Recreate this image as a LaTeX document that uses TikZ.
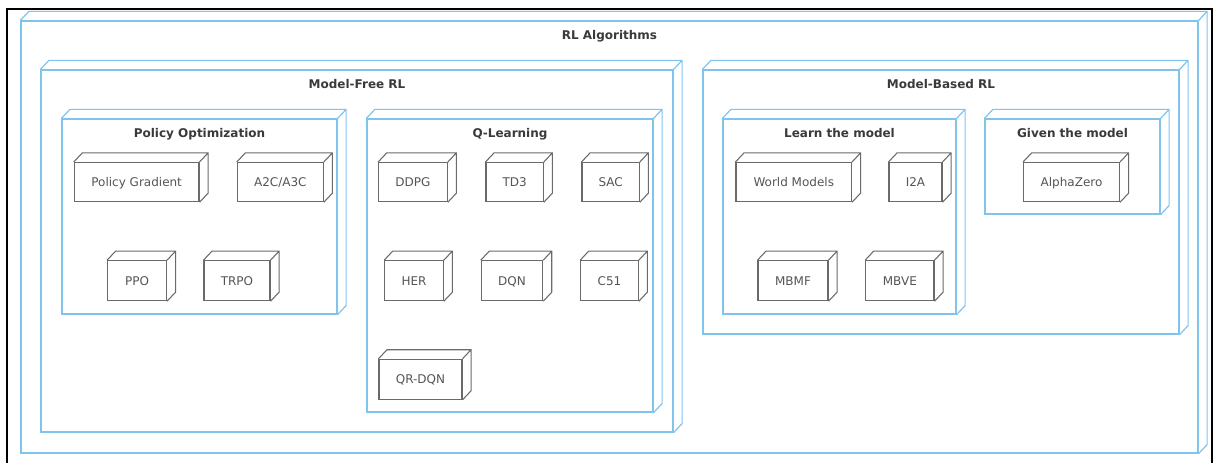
\documentclass[tikz,border=0pt]{standalone}
\usepackage{fontspec}
\setmainfont{DejaVu Sans}
\usetikzlibrary{calc,fit}

\definecolor{frameblue}{HTML}{80C4EE}
\definecolor{boxgray}{HTML}{6A6A6A}
\definecolor{labelgray}{HTML}{555555}
\definecolor{titlegray}{HTML}{3A3A3A}

\tikzset{
  container/.style={draw=frameblue, line width=0.9pt, inner sep=0pt, fill=white},
  algo/.style={draw=boxgray, line width=0.8pt, inner sep=0pt, fill=white},
  algotext/.style={text=labelgray, font=\fontsize{9}{10}\selectfont, inner sep=0pt, anchor=base},
  heading/.style={text=titlegray, font=\fontsize{9}{10}\selectfont\bfseries, inner sep=0pt, anchor=base},
}

% front face of a box given by its two corners, plus the receding top and side
\newcommand\cubebox[6]{%
  \node[#6, fit={(#2,#3) (#4,#5)}] (#1) {};
  \draw[#6, fill=none] (#1.north west) -- ++(8.5,-9) -- ($(#1.north east)+(8.5,-9)$)
     -- ($(#1.south east)+(8.5,-9)$) -- (#1.south east)
     (#1.north east) -- ++(8.5,-9);
}
% algorithm box with its name in the middle
\newcommand\algobox[6]{%
  \cubebox{#1}{#2}{#3}{#4}{#5}{algo}
  \node[algotext] (#1L) at ($(#1.center)+(0,4.5)$) {#6};
}
% container box with its bold title at the top
\newcommand\groupbox[6]{%
  \cubebox{#1}{#2}{#3}{#4}{#5}{container}
  \node[heading] (#1T) at ($(#1.north)+(0,19.3)$) {#6};
}

\begin{document}
\begin{tikzpicture}[x=0.75pt, y=-0.75pt]
\useasboundingbox (0,0) rectangle (1217,463);
\fill[white] (0,0) rectangle (1217,463);

% black page frame
\coordinate (fbl) at (7,470);
\coordinate (ftl) at (7,9);
\coordinate (ftr) at (1212,9);
\coordinate (fbr) at (1212,470);
\draw[line width=1.6pt, black] (fbl) -- (ftl) -- (ftr) -- (fbr);

% containers
\groupbox{rl}{21}{21}{1198}{453}{RL Algorithms}
\groupbox{mf}{41}{70}{673}{432}{Model-Free RL}
\groupbox{mb}{703}{70}{1179}{334}{Model-Based RL}
\groupbox{po}{62}{119}{337}{314}{Policy Optimization}
\groupbox{ql}{367}{119}{653}{412}{Q-Learning}
\groupbox{lm}{723}{119}{956}{314}{Learn the model}
\groupbox{gm}{985}{119}{1160}{214}{Given the model}

% algorithms, first row
\algobox{pg}{74.3}{162.5}{199}{201.7}{Policy Gradient}
\algobox{a2c}{237.3}{162.5}{323.3}{201.7}{A2C/A3C}
\algobox{ddpg}{378.7}{162.5}{447.3}{201.7}{DDPG}
\algobox{td3}{486}{162.5}{543.3}{201.7}{TD3}
\algobox{sac}{582}{162.5}{639.3}{201.7}{SAC}
\algobox{wm}{736}{162.5}{851.5}{201.7}{World Models}
\algobox{i2a}{889}{162.5}{942}{201.7}{I2A}
\algobox{az}{1023.6}{162.5}{1119.5}{201.7}{AlphaZero}

% second row
\algobox{ppo}{107.6}{260.7}{166.5}{300.7}{PPO}
\algobox{trpo}{204}{260.7}{270}{300.7}{TRPO}
\algobox{her}{384.7}{260.7}{443.3}{300.7}{HER}
\algobox{dqn}{481.3}{260.7}{542.7}{300.7}{DQN}
\algobox{c51}{580.7}{260.7}{638.3}{300.7}{C51}
\algobox{mbmf}{758}{260.7}{828}{300.7}{MBMF}
\algobox{mbve}{865.7}{260.7}{934}{300.7}{MBVE}

% third row
\algobox{qrdqn}{379}{359.3}{462}{399.3}{QR-DQN}
\end{tikzpicture}
\end{document}
